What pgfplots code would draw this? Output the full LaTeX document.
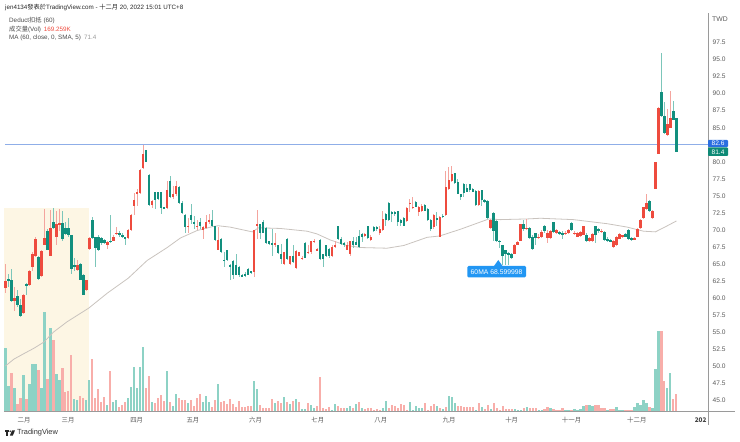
\documentclass[border=0pt]{standalone}
\usepackage{fontspec}
\setmainfont{Liberation Sans}
\newfontfamily\cjk{Noto Sans CJK TC}
\usepackage{pgfplots}
\usepackage{pgfplotstable}
\pgfplotsset{compat=1.18}
\definecolor{candR}{HTML}{EE4B3E}
\definecolor{candG}{HTML}{128F7E}
\definecolor{wickR}{HTML}{F4A59E}
\definecolor{wickG}{HTML}{7CC6BA}
\definecolor{volR}{HTML}{F8AEAA}
\definecolor{volG}{HTML}{8DD2C5}
\definecolor{cream}{HTML}{FDF6E4}
\definecolor{maline}{HTML}{C9C3BE}
\definecolor{priceline}{HTML}{8FAEE8}
\definecolor{axisg}{HTML}{9A9A9A}
\definecolor{labg}{HTML}{5A5A5A}
\definecolor{callout}{HTML}{2196F3}
\definecolor{boxblue}{HTML}{2B6EE0}
\definecolor{boxgreen}{HTML}{0E8A76}
% columns: bar index, body top, body bottom, high, low
\pgfplotstableread{
i t b h l
0 62.5 61.5 65.0 60.7
3 60.0 59.5 61.6 58.1
6 60.4 57.8 60.6 57.7
8 64.0 61.9 64.1 61.8
9 66.5 64.6 66.7 64.0
10 68.7 66.2 68.9 66.0
12 66.9 63.2 67.0 63.0
13 68.8 67.8 73.1 67.7
15 70.3 66.1 72.9 66.1
17 70.9 69.0 72.8 67.7
18 71.0 70.8 73.0 69.9
24 64.8 64.1 65.5 64.0
27 62.6 61.1 62.7 61.0
28 68.8 67.2 68.9 67.1
34 68.2 67.8 68.4 67.2
36 69.0 68.4 69.3 68.3
37 69.6 69.4 70.4 69.3
41 70.0 68.8 70.1 68.7
42 72.2 70.0 72.3 69.9
43 74.4 73.5 75.4 72.2
44 75.5 75.3 76.0 73.5
45 78.8 75.4 78.9 75.3
46 81.1 79.1 82.5 78.9
49 74.2 73.7 74.4 73.2
54 75.8 73.2 77.2 73.1
56 75.2 74.8 76.5 74.5
57 76.4 75.2 77.2 75.0
61 70.6 70.4 71.8 69.6
64 70.6 70.5 71.4 70.0
66 70.4 70.0 70.6 68.7
67 71.1 70.3 72.2 70.1
68 71.4 71.2 72.3 70.9
71 68.5 67.1 70.4 67.0
83 70.0 63.8 70.0 63.1
84 70.8 70.6 72.9 68.7
90 68.1 67.7 69.6 67.5
93 66.7 65.0 66.8 64.9
95 66.1 65.0 66.2 64.9
97 66.9 64.4 67.0 64.3
98 66.7 66.2 66.8 66.1
99 65.9 65.7 66.1 65.6
101 66.8 66.6 67.7 66.5
102 68.3 66.7 68.4 66.5
103 68.4 68.3 68.7 68.1
104 67.2 67.0 67.4 66.9
109 67.5 66.1 67.7 66.0
110 67.8 67.5 68.4 67.3
114 67.7 67.1 68.2 67.0
115 68.3 66.5 68.4 66.2
120 69.4 69.2 69.6 68.9
122 69.0 68.5 69.2 68.4
125 70.1 69.5 70.6 69.2
126 71.6 70.0 72.8 69.9
134 73.2 71.3 73.3 71.1
135 74.0 73.9 74.6 72.6
136 73.4 73.2 74.8 73.1
138 73.4 72.6 73.5 72.1
139 73.5 72.7 73.8 72.6
143 72.2 70.4 72.3 70.1
145 71.9 69.0 72.0 68.9
147 76.3 72.2 78.7 72.1
148 77.3 76.0 79.2 75.8
149 78.2 77.2 79.4 77.0
158 75.7 73.7 75.8 73.5
162 71.4 70.2 71.6 70.1
170 67.8 66.5 67.9 66.4
171 68.2 67.8 68.3 67.7
172 70.8 68.4 70.9 68.3
174 70.3 70.1 71.6 70.0
178 69.0 68.8 69.4 68.7
179 69.7 69.0 70.0 68.8
181 69.6 68.8 70.0 68.1
182 69.9 68.8 70.0 68.6
184 70.0 69.6 70.1 69.4
187 69.6 69.5 69.8 69.3
188 70.0 69.6 70.1 69.4
190 69.6 69.5 69.8 69.3
191 69.6 69.0 69.7 68.9
192 69.7 69.1 69.8 69.0
193 70.5 69.3 70.6 69.2
195 68.8 68.3 69.0 68.2
196 69.4 68.3 69.5 68.2
199 69.9 69.7 70.1 69.5
203 68.4 67.5 68.5 67.4
204 69.0 67.7 69.1 67.6
205 69.4 68.7 69.5 68.6
206 69.2 68.9 69.3 68.8
210 68.8 68.6 68.9 68.5
211 70.1 69.0 70.2 68.9
212 71.5 70.2 71.6 70.1
213 73.3 71.7 73.4 71.6
214 73.9 73.0 75.3 72.9
216 72.8 71.8 72.9 71.6
217 80.0 76.0 80.0 76.0
218 87.9 81.2 88.0 81.1
221 85.5 83.9 87.8 83.8
222 86.5 85.0 90.4 84.9
}\candlesup
\pgfplotstableread{
i t b h l
1 62.8 62.6 63.5 61.6
2 62.7 59.6 64.3 59.4
4 60.3 58.9 61.1 58.7
5 58.9 57.3 59.9 57.2
7 62.0 61.7 62.2 60.4
11 66.0 62.8 66.1 62.7
14 69.8 67.1 70.1 67.0
16 71.1 70.3 73.2 70.1
19 71.0 68.7 72.8 68.4
20 70.3 69.4 71.1 69.2
21 70.3 69.2 71.7 68.9
22 69.3 64.2 69.3 63.5
23 64.8 64.6 65.8 64.0
25 65.0 62.7 65.1 62.6
26 63.3 60.4 63.5 60.4
29 71.4 68.8 71.9 68.7
30 68.9 67.4 69.0 64.6
31 69.0 67.0 69.2 66.9
32 68.8 68.0 68.9 67.7
33 68.5 68.0 68.6 67.9
35 68.4 68.2 72.2 68.1
38 69.6 69.2 69.9 69.0
39 69.3 68.9 69.5 68.8
40 68.9 68.8 69.0 67.8
47 81.7 80.0 81.8 79.9
48 78.0 73.7 78.2 73.5
50 75.5 74.4 75.6 73.1
51 75.5 74.5 75.6 74.4
52 75.5 73.2 75.6 72.3
53 73.3 73.1 73.4 73.0
55 77.2 74.8 77.9 74.7
58 76.3 73.9 76.4 73.8
59 74.0 72.4 74.2 72.3
60 72.2 70.4 72.3 69.6
62 72.2 71.4 73.8 70.9
63 71.1 70.9 72.1 70.1
65 71.1 70.6 71.8 70.1
69 71.4 70.5 72.9 70.4
70 70.5 68.5 70.5 68.3
72 68.7 66.7 68.8 66.6
73 65.6 65.4 66.7 64.5
74 67.0 65.5 67.1 65.4
75 64.9 64.5 65.0 62.6
76 65.4 63.4 65.5 62.8
77 64.8 63.4 66.5 63.3
78 64.6 63.3 64.7 63.1
79 63.4 63.1 63.5 63.1
80 63.5 63.2 63.8 63.1
81 64.3 63.4 64.4 63.3
82 63.9 63.6 64.0 63.5
85 70.8 69.6 70.9 68.7
86 71.2 69.6 71.4 69.5
87 70.3 68.0 70.4 67.9
88 68.3 67.9 68.4 67.8
89 68.0 67.9 70.1 66.1
91 67.7 66.6 67.8 66.5
92 66.4 65.7 67.9 65.0
94 68.7 65.7 68.8 65.5
96 66.1 65.2 67.7 65.1
100 68.1 65.9 68.2 65.8
105 68.5 65.7 68.6 65.6
106 66.4 65.7 66.5 64.5
107 67.7 66.1 67.8 66.0
108 67.2 66.1 67.3 65.9
111 70.5 68.7 70.6 68.5
112 68.7 67.9 68.9 67.7
113 68.0 67.8 68.2 67.5
116 68.3 67.8 69.0 67.4
117 68.2 67.8 68.9 67.7
118 69.1 67.5 70.0 67.4
119 69.4 69.0 69.5 68.2
121 70.5 68.8 70.6 68.7
123 70.4 69.9 70.5 69.7
124 70.4 70.1 70.5 69.9
127 72.3 71.4 72.4 70.6
128 74.0 71.4 74.1 71.3
129 72.6 72.3 72.7 71.1
130 72.6 72.3 72.7 72.1
131 72.7 71.1 72.8 70.6
132 71.4 71.0 71.6 70.6
133 71.8 70.6 71.9 70.5
137 74.1 73.4 74.3 73.3
140 73.6 72.8 73.8 72.7
141 73.1 71.4 73.2 71.3
142 71.4 70.1 71.6 69.9
144 71.7 71.6 72.6 70.6
146 72.1 71.9 72.3 71.8
150 78.3 76.9 78.4 76.7
151 77.0 75.3 77.5 75.2
152 75.2 74.8 75.3 74.4
153 76.8 75.4 76.9 74.8
154 76.1 75.6 76.7 75.5
155 76.7 75.8 76.8 75.5
156 76.0 75.6 76.1 75.5
157 75.7 73.7 75.8 73.5
159 75.8 74.4 75.9 73.5
160 74.4 74.2 74.5 74.0
161 74.3 71.8 74.4 71.6
163 72.5 69.8 72.6 68.4
164 71.3 68.4 71.4 68.2
165 68.4 68.2 68.5 67.4
166 67.7 66.1 67.8 64.8
167 67.0 66.4 67.1 64.8
168 66.6 66.4 66.7 64.8
169 66.5 65.9 66.6 65.7
173 70.8 70.1 71.4 69.9
175 70.3 68.8 70.4 68.7
176 69.0 67.2 69.2 67.1
177 69.5 68.8 69.6 67.7
180 70.6 69.9 70.7 69.5
183 71.1 69.7 71.2 69.6
185 69.7 69.4 69.9 69.3
186 69.6 69.3 69.8 68.7
189 71.0 70.0 71.1 69.9
194 69.3 68.3 69.5 68.2
197 70.5 69.3 70.6 68.0
198 70.1 69.9 70.3 69.5
200 69.7 68.5 69.9 68.4
201 68.7 68.3 68.9 68.2
202 68.5 68.3 68.6 68.2
207 69.4 69.0 69.5 68.9
208 70.0 68.6 70.1 68.5
209 68.8 68.5 68.9 68.4
215 74.2 72.8 74.4 72.6
219 90.2 86.7 96.0 86.6
220 86.7 84.2 88.8 84.1
223 87.4 86.2 89.0 86.2
224 86.4 81.4 86.4 81.4
}\candlesdown
\pgfplotstableread{
i v
0 635
1 257
3 230
6 365
8 274
9 473
10 473
12 230
13 1006
15 837
17 375
18 314
23 118
24 111
27 111
28 314
34 61
36 88
37 111
41 128
42 240
43 449
44 236
45 442
46 645
49 88
54 409
56 51
57 172
61 78
66 95
67 152
68 95
71 270
83 307
84 220
90 78
93 138
95 71
97 122
99 17
100 17
102 61
103 27
109 10
110 71
114 27
115 51
117 68
119 27
126 30
127 101
135 88
136 14
137 47
138 27
139 27
144 51
146 17
148 152
149 145
150 78
157 14
159 44
162 17
170 17
171 14
172 14
174 44
178 14
179 14
182 27
187 14
188 14
190 24
191 14
192 24
193 54
195 61
196 47
201 7
204 41
205 14
206 10
210 41
211 84
212 57
213 108
214 84
216 27
217 425
218 810
221 236
222 385
}\voldown
\pgfplotstableread{
i v
2 388
4 71
5 128
7 118
11 415
14 321
16 719
19 432
20 196
21 206
22 567
25 152
26 128
29 523
30 135
31 223
32 95
33 145
35 405
38 37
39 61
40 88
47 236
48 358
50 84
51 135
52 159
53 101
55 95
58 128
59 111
60 111
62 111
63 51
64 135
65 172
69 44
70 111
72 95
73 105
74 71
75 118
76 68
77 44
78 105
79 37
80 37
81 51
82 51
85 61
86 27
87 34
88 27
89 118
91 105
92 78
94 88
96 98
98 88
101 78
104 51
105 341
106 30
107 17
108 37
111 51
112 34
113 34
116 34
118 88
120 17
121 34
122 34
123 10
124 17
125 7
128 27
129 64
130 51
131 30
132 71
133 57
134 14
140 84
141 10
142 51
143 71
145 27
147 37
151 51
152 54
153 37
154 41
155 44
156 37
158 84
160 20
161 57
163 84
164 27
165 14
166 47
167 24
168 17
169 24
173 27
175 27
176 30
177 30
180 20
181 41
183 24
184 14
185 7
186 30
189 7
194 64
197 61
198 64
199 34
200 27
202 24
203 17
207 7
208 7
209 7
215 44
219 810
220 304
223 122
224 169
}\volup
\pgfplotstableread{
i m
0 50.0
2.8 51.0
6.1 51.8
9.5 52.6
12.8 53.5
16.1 55.0
20.6 56.5
27.8 58.5
34 60.7
41 62.9
47.3 65.5
54 67.4
58.4 68.8
64 69.9
69.4 70.5
71 70.6
75 70.4
82.4 69.7
84.5 70.3
91.8 70.2
100.7 69.8
104 69.4
108.5 68.5
114 67.7
118.5 67.4
127.4 67.3
133 67.7
140.8 68.9
145 69.1
152 70.1
161.4 71.6
165.3 71.5
174.2 71.6
178.6 71.7
189.6 71.5
200.9 70.9
207.6 70.4
213 69.8
217 69.7
221 70.6
224 71.3
}\matable
\pgfplotsset{
  frame/.style={
    at={(4pt,31pt)}, anchor=south west,
    scale only axis, width=704pt, height=398pt,
    xmin=-0.5, xmax=234.56},
  wick/.style={draw=none, mark=none, forget plot,
    error bars/.cd, y dir=both, y explicit, error mark=none,
    error bar style={solid, line width=0.8pt, draw=#1}},
  body/.style={draw=none, mark=none, forget plot,
    error bars/.cd, y dir=both, y explicit, error mark=none,
    error bar style={solid, line width=2.4pt, draw=#1}},
}
\begin{document}
\begin{tikzpicture}[x=1pt,y=1pt]
\path[use as bounding box] (0,0) rectangle (740,442);
% volume pane
\begin{axis}[frame, ymin=0, ymax=4032, hide axis]
\addplot[fill=cream, draw=none] coordinates {(-0.5,0) (27.9,0) (27.9,2056) (-0.5,2056)} -- cycle;
\addplot[ycomb, line width=2.2pt, color=volG] table[x=i,y=v] {\voldown};
\addplot[ycomb, line width=2.2pt, color=volR] table[x=i,y=v] {\volup};
\end{axis}
% price pane
\begin{axis}[frame, ymin=43.38, ymax=101.86,
  axis x line=bottom, axis y line=right,
  axis line style={-, color=axisg, line width=0.8pt},
  tick style={draw=none},
  ytick={45,47.5,...,97.5},
  yticklabel style={/pgf/number format/fixed, /pgf/number format/fixed zerofill,
    /pgf/number format/precision=1, /pgf/number format/assume math mode=true,
    font=\fontsize{6.6}{8}\selectfont, text=labg, anchor=west, xshift=-1pt},
  xtick={6.2,20.9,43.8,62.6,83.5,104.3,125.3,148.1,169,189,210.8,232.1},
  xticklabels={二月,三月,四月,五月,六月,七月,八月,九月,十月,十一月,十二月,{\bfseries\color{black!75}202}},
  xticklabel style={font=\cjk\fontsize{6.4}{8}\selectfont, text=labg, inner sep=0pt, yshift=-4pt},
]
\addplot[maline, line width=0.8pt, forget plot] table[x=i,y=m] {\matable};
\addplot[color=priceline, line width=1.2pt, forget plot] coordinates {(-0.2,82.5) (234.56,82.5)};
\addplot[wick=wickR] table[x=i, y expr=(\thisrow{h}+\thisrow{l})/2, y error expr=(\thisrow{h}-\thisrow{l})/2] {\candlesup};
\addplot[wick=wickG] table[x=i, y expr=(\thisrow{h}+\thisrow{l})/2, y error expr=(\thisrow{h}-\thisrow{l})/2] {\candlesdown};
\addplot[body=candR] table[x=i, y expr=(\thisrow{t}+\thisrow{b})/2, y error expr=(\thisrow{t}-\thisrow{b})/2] {\candlesup};
\addplot[body=candG] table[x=i, y expr=(\thisrow{t}+\thisrow{b})/2, y error expr=(\thisrow{t}-\thisrow{b})/2] {\candlesdown};
\end{axis}
% pane edges continued
\draw[axisg, line width=0.8pt] (708,31) -- (708,17);
\draw[axisg, line width=0.8pt] (708,31) -- (735,31);
% header and legend
\node[anchor=west, inner sep=0pt, text=black!85] at (5,434) {\fontsize{6.25}{8}\selectfont jen4134{\cjk 發表於}TradingView.com - {\cjk 十二月} 20, 2022 15:01 UTC+8};
\node[anchor=west, inner sep=0pt, text=black!70] at (9,421.4) {\fontsize{6.3}{8}\selectfont Deduct{\cjk 扣抵} (60)};
\node[anchor=west, inner sep=0pt, text=black!70] at (9,412.7) {\fontsize{6.3}{8}\selectfont {\cjk 成交量}(Vol)};
\node[anchor=west, inner sep=0pt, text=candR] at (43.7,412.7) {\fontsize{6.3}{8}\selectfont 169.259K};
\node[anchor=west, inner sep=0pt, text=black!70] at (9,404.3) {\fontsize{6.3}{8}\selectfont MA (60, close, 0, SMA, 5)};
\node[anchor=west, inner sep=0pt, text=black!40] at (84,404.3) {\fontsize{6.3}{8}\selectfont 71.4};
% currency
\node[anchor=west, inner sep=0pt, text=labg] at (712,423) {\fontsize{6.8}{8}\selectfont TWD};
% last value boxes
\fill[boxblue, rounded corners=0.8pt] (708,302) rectangle (728,295);
\node[text=white, inner sep=0pt] at (718,298.5) {\fontsize{6.6}{8}\selectfont 82.6};
\fill[boxgreen, rounded corners=0.8pt] (708,294.5) rectangle (728,286);
\node[text=white, inner sep=0pt] at (718,290.2) {\fontsize{6.6}{8}\selectfont 81.4};
% callout
\fill[callout] (494,176) -- (498.3,182) -- (502.5,176) -- cycle;
\fill[callout, rounded corners=1.2pt] (467.3,176) rectangle (526,164.7);
\node[text=white, inner sep=0pt] at (496.6,170.3) {\fontsize{6.8}{8}\selectfont 60MA 68.599998};
% logo
\fill[black!85] (5,11.6) rectangle (9.4,9.8);
\fill[black!85] (6.4,9.8) rectangle (8.2,6.4);
\fill[black!85] (10.2,10.7) circle (0.9);
\fill[black!85] (12,11.6) -- (15,11.6) -- (12.8,6.4) -- (9.9,6.4) -- cycle;
\node[anchor=west, inner sep=0pt, text=black!80] at (17,9) {\fontsize{7.4}{8}\selectfont TradingView};
\end{tikzpicture}
\end{document}
